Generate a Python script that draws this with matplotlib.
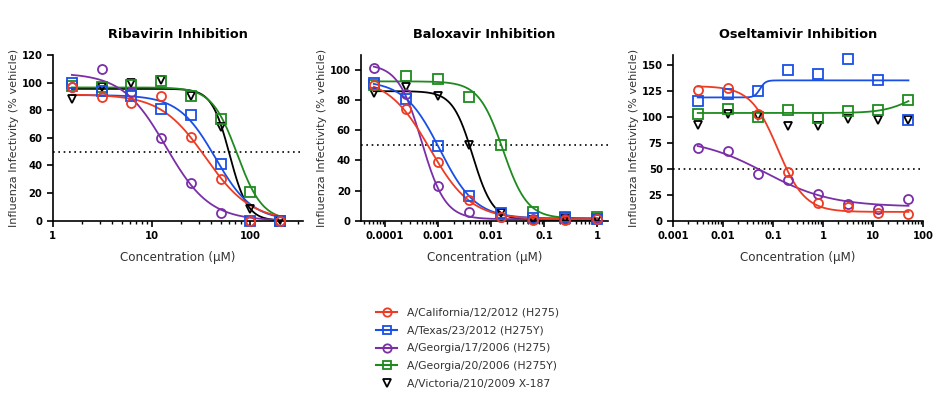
import numpy as np
import matplotlib.pyplot as plt
from matplotlib.lines import Line2D
from matplotlib import ticker

plt.rcParams['font.family'] = 'DejaVu Sans'

# strains (same order in every panel)
strains = ['A/California/12/2012 (H275)', 'A/Texas/23/2012 (H275Y)',
           'A/Georgia/17/2006 (H275)', 'A/Georgia/20/2006 (H275Y)',
           'A/Victoria/210/2009 X-187']
colors = ['#ee3b24', '#1a4fe6', '#7a2fa8', '#1f8a1f', 'black']
markers = ['o', 's', 'o', 's', 'v']

# Ribavirin (2-fold dilutions, uM)
riba_conc = [1.5625, 3.125, 6.25, 12.5, 25, 50, 100, 200]
riba_california = [97, 89.3, 85.5, 90, 60.4, 30.2, 0, 0]
riba_texas = [100, 94, 90, 80.6, 76.3, 40.8, 0, 0]
riba_georgia17 = [97, 109.8, 93.4, 59.6, 27, 5.3, 0, 0]
riba_georgia20 = [97.5, 96.6, 98, 101, 90.3, 73.6, 21, 0]
riba_victoria = [88, 97, 100, 102, 90, 68, 8.5, 0.5]
# fitted curves: (top, bottom, ic50, hill)
riba_fits = [(91.5, 0, 35.2, 1.9), (91, 0, 44.2, 2.33), (107, 0, 14.0, 1.97),
             (96.5, 0, 73.4, 3.4), (95.5, 0, 61.6, 4.8)]

# Baloxavir (4-fold dilutions, uM)
balo_conc = [6.1e-5, 2.44e-4, 9.77e-4, 3.9e-3, 0.0156, 0.0625, 0.25, 1]
balo_california = [89.8, 73.9, 39.2, 13.7, 2.7, 0.5, 0.5, 1]
balo_texas = [91.6, 80.5, 49.8, 16.4, 5.3, 1.5, 1.5, 1]
balo_georgia17 = [101.5, 83.8, 23.2, 5.5, 2.7, 1, 1, 1.5]
balo_georgia20 = [90, 96.2, 93.8, 82.3, 50.2, 6, 2.7, 2.7]
balo_victoria = [84.5, 89, 82.7, 50.2, 5.3, 0.5, 1, 1]
balo_fits = [(95, 1, 0.00069, 1.105), (93, 1.5, 0.001075, 1.29),
             (104, 1, 0.000488, 1.96), (92.5, 1.5, 0.0167, 1.9),
             (86, 0.5, 0.00448, 2.3)]

# Oseltamivir (4-fold dilutions, uM)
osel_conc = [0.003125, 0.0125, 0.05, 0.2, 0.8, 3.2, 12.8, 51.2]
osel_california = [125.9, 128.5, 103.4, 47.2, 17.3, 13.5, 7.1, 6.4]
osel_texas = [115.6, 122, 125.3, 145.2, 141.3, 155.8, 136.2, 97.6]
osel_georgia17 = [70.3, 67.5, 45, 39.2, 25.7, 16.1, 11, 20.9]
osel_georgia20 = [102.8, 107.6, 100.2, 106.6, 99.6, 106, 106.6, 116.3]
osel_victoria = [92.2, 102.8, 100.9, 91.2, 91.2, 98.6, 97, 97]
osel_fits = [(130, 8.5, 0.1246, 1.6), (119, 135.5, 0.055, 8),
             (80, 13.5, 0.068, 0.65), (104, 130, 60, 1.5), None]


def logistic(x, top, bottom, ic50, hill):
    return bottom + (top - bottom) / (1 + (x / ic50) ** hill)


def draw_panel(ax, title, conc, series, fits, xlim, ylim, yticks):
    # draw in reverse so California ends up on top
    for i in reversed(range(len(strains))):
        if fits[i] is not None:
            xs = np.logspace(np.log10(conc[0]), np.log10(conc[-1]), 400)
            ax.plot(xs, logistic(xs, *fits[i]), color=colors[i], lw=1.3, zorder=2)
        ms = 6.5 if markers[i] != 'v' else 6.3
        ax.plot(conc, series[i], linestyle='none', marker=markers[i], ms=ms,
                mfc='none', mec=colors[i], mew=1.3, clip_on=False, zorder=3)

    ax.axhline(50, color='black', lw=1.2, linestyle=(0, (1, 2.2)), zorder=1)

    ax.set_xscale('log')
    ax.set_xlim(*xlim)
    ax.set_ylim(*ylim)
    ax.set_yticks(yticks)
    ax.xaxis.set_major_locator(ticker.LogLocator(base=10))
    ax.xaxis.set_minor_locator(ticker.LogLocator(base=10, subs=np.arange(2, 10)))
    ax.xaxis.set_major_formatter(ticker.FuncFormatter(lambda v, p: '%g' % v))
    ax.xaxis.set_minor_formatter(ticker.NullFormatter())

    for side in ['top', 'right']:
        ax.spines[side].set_visible(False)
    for side in ['left', 'bottom']:
        ax.spines[side].set_linewidth(1.2)
    ax.tick_params(which='major', length=4, width=1.2, labelsize=7.2)
    ax.tick_params(which='minor', length=2.2, width=1.0)
    for lbl in ax.get_xticklabels() + ax.get_yticklabels():
        lbl.set_fontweight('bold')

    ax.set_title(title, fontsize=9.3, fontweight='bold', pad=12)
    ax.set_xlabel('Concentration (µM)', fontsize=8.6, color='#333333', labelpad=7)
    ax.set_ylabel('Influenza Infectivity (% vehicle)', fontsize=8.1,
                  color='#333333', labelpad=2)


fig = plt.figure(figsize=(9.39, 3.96), dpi=100)
bottom = 1 - 220.7 / 396
height = (220.7 - 55) / 396
ax1 = fig.add_axes([52.7 / 939, bottom, 250.3 / 939, height])
ax2 = fig.add_axes([361 / 939, bottom, 247 / 939, height])
ax3 = fig.add_axes([673 / 939, bottom, 250 / 939, height])

draw_panel(ax1, 'Ribavirin Inhibition', riba_conc,
           [riba_california, riba_texas, riba_georgia17, riba_georgia20, riba_victoria],
           riba_fits, (1, 340), (0, 120), range(0, 121, 20))
draw_panel(ax2, 'Baloxavir Inhibition', balo_conc,
           [balo_california, balo_texas, balo_georgia17, balo_georgia20, balo_victoria],
           balo_fits, (3.5e-5, 1.6), (0, 110), range(0, 101, 20))
draw_panel(ax3, 'Oseltamivir Inhibition', osel_conc,
           [osel_california, osel_texas, osel_georgia17, osel_georgia20, osel_victoria],
           osel_fits, (0.001, 100), (0, 160), range(0, 151, 25))

# shared legend below the panels
handles = []
for i in range(len(strains)):
    ls = '-' if i < 4 else 'none'
    handles.append(Line2D([], [], color=colors[i], marker=markers[i], mfc='none',
                          mec=colors[i], mew=1.3, ms=6, lw=1.5, linestyle=ls))
fig.legend(handles, strains, loc='upper left', bbox_to_anchor=(366 / 939, 1 - 298 / 396),
           frameon=False, fontsize=7.8, handlelength=2.0, labelspacing=0.72,
           handletextpad=0.9, numpoints=1, labelcolor='#333333')

plt.savefig('out.png', dpi=100)
